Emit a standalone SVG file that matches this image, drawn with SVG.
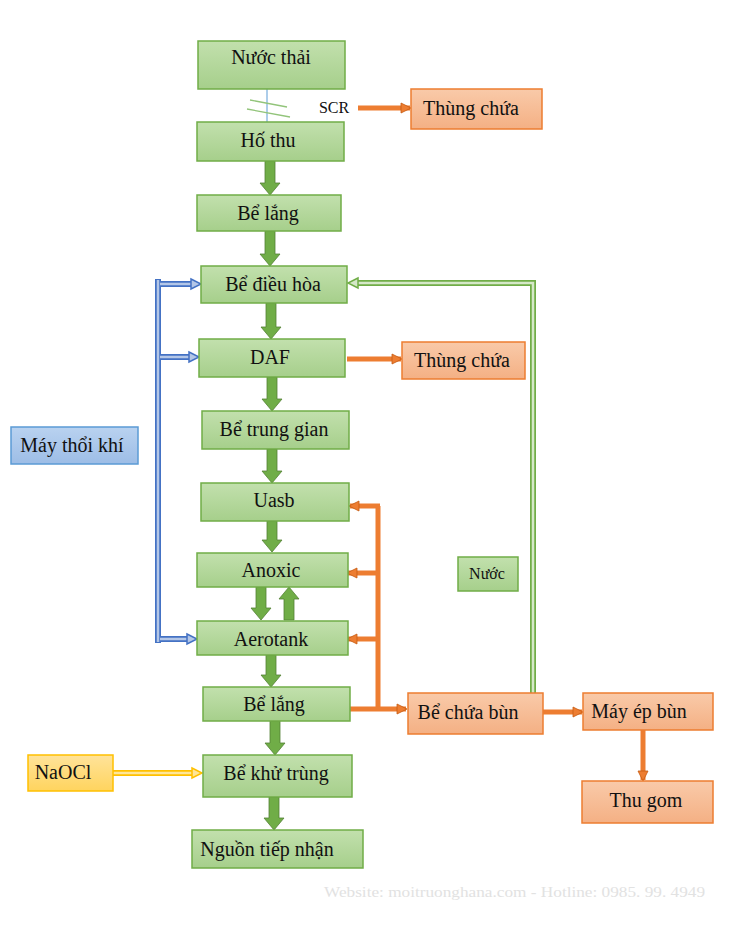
<svg xmlns="http://www.w3.org/2000/svg" width="730" height="925" viewBox="0 0 730 925">
<defs>
<linearGradient id="gG" x1="0" y1="0" x2="0" y2="1"><stop offset="0" stop-color="#c2e0ad"/><stop offset="1" stop-color="#a6cf8b"/></linearGradient>
<linearGradient id="gO" x1="0" y1="0" x2="0" y2="1"><stop offset="0" stop-color="#f9caa9"/><stop offset="1" stop-color="#f4b084"/></linearGradient>
<linearGradient id="gB" x1="0" y1="0" x2="0" y2="1"><stop offset="0" stop-color="#b9d2f0"/><stop offset="1" stop-color="#9dbde6"/></linearGradient>
<linearGradient id="gY" x1="0" y1="0" x2="0" y2="1"><stop offset="0" stop-color="#ffe39a"/><stop offset="1" stop-color="#ffd45e"/></linearGradient>
<marker id="mO" markerUnits="userSpaceOnUse" markerWidth="12" markerHeight="12" viewBox="0 0 12 12" refX="10" refY="6" orient="auto"><path d="M1,1 L11,6 L1,11 Z" fill="#ed7d31" stroke="#c55a11" stroke-width="0.8"/></marker>
</defs>
<style>
text{font-family:'Liberation Serif','Times New Roman',serif;font-size:20px;fill:#111;text-anchor:middle}
.g rect{fill:url(#gG);stroke:#70ad47;stroke-width:1.5}
.o rect{fill:url(#gO);stroke:#ed7d31;stroke-width:1.5}
.b rect{fill:url(#gB);stroke:#5b9bd5;stroke-width:1.5}
.y rect{fill:url(#gY);stroke:#ffc000;stroke-width:1.5}
.ga{fill:#70ad47;stroke:#548235;stroke-width:0.8}
.oa{stroke:#ed7d31;stroke-width:5;fill:none}
.bo{stroke:#4472c4;stroke-width:6;fill:none}
.bi{stroke:#b4c7e7;stroke-width:2.5;fill:none}
.bh{fill:#b4c7e7;stroke:#4472c4;stroke-width:1.5}
.go{stroke:#70ad47;stroke-width:6;fill:none}
.gi{stroke:#d5e8c8;stroke-width:2.5;fill:none}
.gh{fill:#d5e8c8;stroke:#70ad47;stroke-width:1.5}
.yo{stroke:#ffc000;stroke-width:6;fill:none}
.yi{stroke:#ffe699;stroke-width:2.5;fill:none}
.yh{fill:#ffe699;stroke:#ffc000;stroke-width:1.5}
</style>
<rect width="730" height="925" fill="#ffffff"/>

<g id="connectors">
  <line x1="267" y1="89" x2="267" y2="122" stroke="#5b9bd5" stroke-width="1"/>
  <line x1="250" y1="100" x2="287" y2="107" stroke="#92c47a" stroke-width="1.3"/>
  <line x1="247" y1="109" x2="290" y2="117" stroke="#92c47a" stroke-width="1.3"/>
  <polygon class="ga" points="265,161 275,161 275,183 280,183 270,195 260,183 265,183"/>
  <polygon class="ga" points="265,231 275,231 275,254 280,254 270,266 260,254 265,254"/>
  <polygon class="ga" points="266,303 276,303 276,327 281,327 271,339 261,327 266,327"/>
  <polygon class="ga" points="267,377 277,377 277,399 282,399 272,411 262,399 267,399"/>
  <polygon class="ga" points="267,449 277,449 277,471 282,471 272,483 262,471 267,471"/>
  <polygon class="ga" points="267,521 277,521 277,540 282,540 272,552 262,540 267,540"/>
  <polygon class="ga" points="256,587 266,587 266,608 271,608 261,620 251,608 256,608"/>
  <polygon class="ga" points="284,620 294,620 294,599 299,599 289,587 279,599 284,599"/>
  <polygon class="ga" points="266,655 276,655 276,675 281,675 271,687 261,675 266,675"/>
  <polygon class="ga" points="270,721 280,721 280,743 285,743 275,755 265,743 270,743"/>
  <polygon class="ga" points="269,797 279,797 279,818 284,818 274,830 264,818 269,818"/>
  <line class="oa" x1="358" y1="108" x2="410" y2="108" marker-end="url(#mO)"/>
  <line class="oa" x1="347" y1="359" x2="401" y2="359" marker-end="url(#mO)"/>
  <line class="oa" x1="543" y1="712" x2="582" y2="712" marker-end="url(#mO)"/>
  <line class="oa" x1="643" y1="730" x2="643" y2="780" marker-end="url(#mO)"/>
  <path class="oa" d="M378,709 L378,506"/>
  <line class="oa" x1="380" y1="506" x2="350" y2="506" marker-end="url(#mO)"/>
  <line class="oa" x1="378" y1="573" x2="348" y2="573" marker-end="url(#mO)"/>
  <line class="oa" x1="378" y1="639" x2="348" y2="639" marker-end="url(#mO)"/>
  <line class="oa" x1="350" y1="709" x2="406" y2="709" marker-end="url(#mO)"/>
  <path class="bo" d="M158,279 L158,643 M158,284 L192,284 M158,357 L190,357 M158,639 L188,639"/>
  <path class="bi" d="M158,280 L158,642 M160,284 L193,284 M160,357 L191,357 M160,639 L189,639"/>
  <polygon class="bh" points="191,279 201,284 191,289"/>
  <polygon class="bh" points="189,352 199,357 189,362"/>
  <polygon class="bh" points="187,634 197,639 187,644"/>
  <path class="go" d="M533,693 L533,283 L357,283"/>
  <path class="gi" d="M533,693 L533,283 L357,283"/>
  <polygon class="gh" points="358,278 348,283 358,288"/>
  <path class="yo" d="M113,773 L193,773"/>
  <path class="yi" d="M113,773 L194,773"/>
  <polygon class="yh" points="192,768 202,773 192,778"/>
</g>

<g id="nuoc-thai" class="g"><rect x="198" y="41" width="147" height="48"/><text x="271" y="64">Nước thải</text></g>
<g id="scr"><text x="334" y="113" style="font-size:16px">SCR</text></g>
<g id="thung-chua-1" class="o"><rect x="411" y="89" width="131" height="40"/><text x="471" y="115">Thùng chứa</text></g>
<g id="ho-thu" class="g"><rect x="197" y="122" width="147" height="39"/><text x="268" y="147">Hố thu</text></g>
<g id="be-lang-1" class="g"><rect x="197" y="195" width="144" height="36"/><text x="268" y="220">Bể lắng</text></g>
<g id="be-dieu-hoa" class="g"><rect x="201" y="266" width="146" height="37"/><text x="273" y="291">Bể điều hòa</text></g>
<g id="daf" class="g"><rect x="199" y="339" width="146" height="38"/><text x="270" y="364">DAF</text></g>
<g id="thung-chua-2" class="o"><rect x="402" y="342" width="123" height="37"/><text x="462" y="367">Thùng chứa</text></g>
<g id="may-thoi-khi" class="b"><rect x="11" y="427" width="127" height="37"/><text x="72" y="452">Máy thổi khí</text></g>
<g id="be-trung-gian" class="g"><rect x="202" y="411" width="147" height="38"/><text x="274" y="436">Bể trung gian</text></g>
<g id="uasb" class="g"><rect x="201" y="483" width="148" height="38"/><text x="274" y="507">Uasb</text></g>
<g id="anoxic" class="g"><rect x="197" y="553" width="151" height="34"/><text x="271" y="577">Anoxic</text></g>
<g id="nuoc" class="g"><rect x="458" y="557" width="60" height="34"/><text x="487" y="579" style="font-size:16px">Nước</text></g>
<g id="aerotank" class="g"><rect x="197" y="621" width="151" height="34"/><text x="271" y="646">Aerotank</text></g>
<g id="be-lang-2" class="g"><rect x="203" y="687" width="147" height="34"/><text x="274" y="711">Bể lắng</text></g>
<g id="be-chua-bun" class="o"><rect x="408" y="693" width="135" height="41"/><text x="468" y="719">Bể chứa bùn</text></g>
<g id="may-ep-bun" class="o"><rect x="583" y="693" width="130" height="37"/><text x="639" y="718">Máy ép bùn</text></g>
<g id="thu-gom" class="o"><rect x="582" y="781" width="131" height="42"/><text x="646" y="807">Thu gom</text></g>
<g id="naocl" class="y"><rect x="28" y="755" width="85" height="36"/><text x="63" y="779">NaOCl</text></g>
<g id="be-khu-trung" class="g"><rect x="203" y="755" width="149" height="42"/><text x="276" y="780">Bể khử trùng</text></g>
<g id="nguon-tiep-nhan" class="g"><rect x="192" y="830" width="171" height="38"/><text x="267" y="856">Nguồn tiếp nhận</text></g>

<text x="324" y="897" textLength="381" lengthAdjust="spacingAndGlyphs" style="font-size:15px;fill:#e2e2e2;text-anchor:start">Website: moitruonghana.com - Hotline: 0985. 99. 4949</text>
</svg>
